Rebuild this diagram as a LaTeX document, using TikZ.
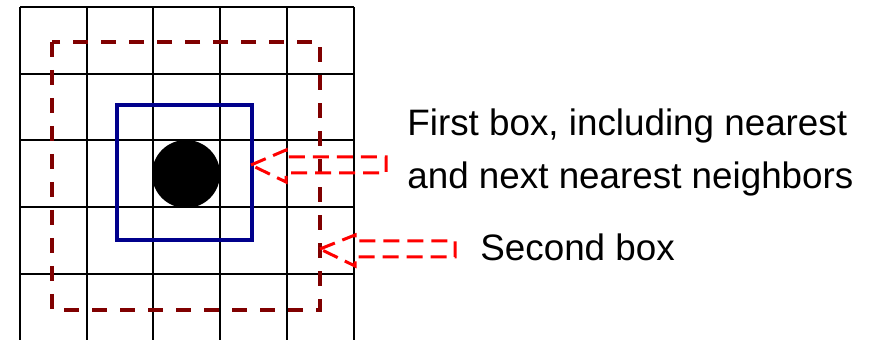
\documentclass[tikz,border=0pt]{standalone}
\usepackage{fontspec}
\setmainfont{Liberation Sans}
\usepackage{tikz}

\tikzset{
  gridline/.style={black,line width=1pt},
  firstbox/.style={draw=blue!55!black,line width=1.6pt},
  secondbox/.style={draw=red!50!black,line width=2pt,dash pattern=on 7.5pt off 6.5pt},
  callout/.style={draw=red,line width=1.5pt,dash pattern=on 8pt off 4pt},
  label/.style={anchor=base west,inner sep=0pt,font=\fontsize{18.4}{22}\selectfont}
}

\begin{document}
\begin{tikzpicture}[x=0.5pt,y=-0.5pt]
  \useasboundingbox (0,0) rectangle (869,340);

  % Lattice
  \foreach \i in {0,...,5}
    \draw[gridline] (20+66.7*\i,7) -- (20+66.7*\i,340);
  \foreach \j in {0,...,4}
    \draw[gridline] (20,7+66.7*\j) -- (353.5,7+66.7*\j);

  % Central particle
  \coordinate (p) at (186,174);
  \fill (p) circle (17pt);

  % Boxes
  \draw[firstbox] (117,105) rectangle (252,240);
  \draw[secondbox] (52,42) rectangle (320,310);

  % Pointer tips
  \coordinate (t1) at (251,165);
  \coordinate (t2) at (320,249);

  % Legend callouts
  \draw[callout] (t1) -- (286,150) -- (286,157) -- (386,157) -- (386,173)
    -- (286,173) -- (286,182) -- cycle;
  \draw[callout] (t2) -- (355,235) -- (355,241) -- (455,241) -- (455,257)
    -- (355,257) -- (355,266) -- cycle;

  % Labels
  \node[label] (l1) at (407,136) {First box, including nearest};
  \node[label] (l2) at (407,189) {and next nearest neighbors};
  \node[label] (l3) at (480,261) {Second box};
\end{tikzpicture}
\end{document}
